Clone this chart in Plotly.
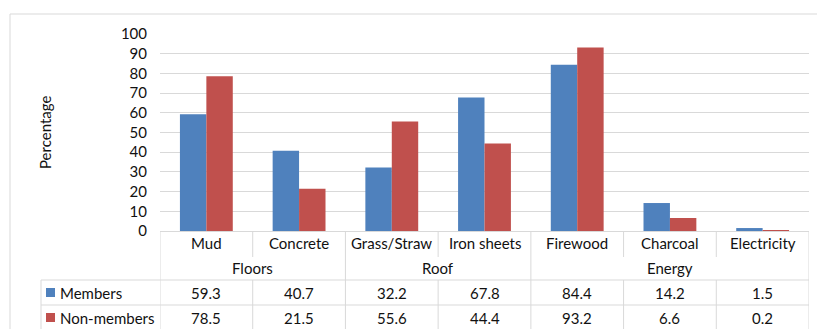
import plotly.graph_objects as go

# Household characteristics by membership status
categories = ["Mud", "Concrete", "Grass/Straw", "Iron sheets", "Firewood", "Charcoal", "Electricity"]
groups = ["Floors", "Roof", "Energy"]
group_spans = [(0, 1), (2, 3), (4, 6)]
members = [59.3, 40.7, 32.2, 67.8, 84.4, 14.2, 1.5]
non_members = [78.5, 21.5, 55.6, 44.4, 93.2, 6.6, 0.2]
series_names = ["Members", "Non-members"]

BLUE = "#4F81BD"
RED = "#C0504D"
GRID = "#D9D9D9"
TEXT = "#111111"
FONT = "Lato"
FS = 15

W, H = 817, 329
L, R, T, B = 160, 8, 34, 98
PW, PH = W - L - R, H - T - B


def px(xp):
    return (xp - L) / PW


def py(yp):
    return (H - B - yp) / PH


fig = go.Figure()
fig.add_trace(go.Bar(x=list(range(len(categories))), y=members, name=series_names[0],
                     marker=dict(color=BLUE, line=dict(width=0))))
fig.add_trace(go.Bar(x=list(range(len(categories))), y=non_members, name=series_names[1],
                     marker=dict(color=RED, line=dict(width=0))))

n = len(categories)
shapes = []
annotations = []


def hline(x0, x1, y, xref="x"):
    shapes.append(dict(type="line", xref=xref, yref="paper", x0=x0, x1=x1, y0=y, y1=y,
                       line=dict(color=GRID, width=1)))


def vline(x, y0, y1, xref="x"):
    shapes.append(dict(type="line", xref=xref, yref="paper", x0=x, x1=x, y0=y0, y1=y1,
                       line=dict(color=GRID, width=1)))


# table rows (pixel rows below the axis)
row_cat = py(257)
row_grp = py(280)
row_mem = py(305)
row_bot = py(340)

# outer chart frame
vline(px(10), py(14), py(340), xref="paper")
hline(px(10), px(817), py(14), xref="paper")

# table grid
hline(px(41), px(809), row_grp, xref="paper")
hline(px(41), px(809), row_mem, xref="paper")
vline(px(41), row_grp, row_bot, xref="paper")
vline(-0.5, 0, row_bot)
vline(n - 0.5, 0, row_bot)
group_edges = {s - 0.5 for s, _ in group_spans[1:]}
for k in range(1, n):
    b = k - 0.5
    if b in group_edges:
        vline(b, 0, row_bot)
    else:
        vline(b, 0, row_cat)
        vline(b, row_grp, row_bot)

# category and group labels
for i, c in enumerate(categories):
    annotations.append(dict(x=i, y=py(243), xref="x", yref="paper", text=c, showarrow=False,
                            font=dict(family=FONT, size=FS, color=TEXT), yanchor="middle"))
for g, (s, e) in zip(groups, group_spans):
    annotations.append(dict(x=(s + e) / 2, y=py(268), xref="x", yref="paper", text=g,
                            showarrow=False, font=dict(family=FONT, size=FS, color=TEXT),
                            yanchor="middle"))

# data rows
for vals, yrow, col, name in [(members, 292.5, BLUE, series_names[0]),
                              (non_members, 317.5, RED, series_names[1])]:
    for i, v in enumerate(vals):
        annotations.append(dict(x=i, y=py(yrow), xref="x", yref="paper", text=f"{v:.1f}",
                                showarrow=False, font=dict(family=FONT, size=FS, color=TEXT),
                                yanchor="middle"))
    shapes.append(dict(type="rect", xref="paper", yref="paper", x0=px(46), x1=px(55),
                       y0=py(yrow - 4.5), y1=py(yrow + 4.5), fillcolor=col,
                       line=dict(width=0)))
    annotations.append(dict(x=px(58), y=py(yrow), xref="paper", yref="paper", text=name,
                            showarrow=False, xanchor="left", yanchor="middle",
                            font=dict(family=FONT, size=FS, color=TEXT)))

# y-axis title
annotations.append(dict(x=px(45), y=py(133), xref="paper", yref="paper", text="Percentage",
                        textangle=-90, showarrow=False, xanchor="center", yanchor="middle",
                        font=dict(family=FONT, size=FS, color=TEXT)))

fig.update_layout(
    width=W, height=H,
    margin=dict(l=L, r=R, t=T, b=B, pad=0),
    paper_bgcolor="white", plot_bgcolor="white",
    barmode="group", bargap=0.43, bargroupgap=0,
    showlegend=False,
    shapes=shapes, annotations=annotations,
    xaxis=dict(range=[-0.5, n - 0.5], showticklabels=False, showgrid=False,
               zeroline=False, showline=True, linecolor=GRID, linewidth=1, ticks=""),
    yaxis=dict(range=[0, 100], dtick=10, showgrid=True, gridcolor=GRID, gridwidth=1,
               zeroline=False, showline=False, ticks="", ticklabelstandoff=12,
               tickfont=dict(family=FONT, size=FS, color=TEXT)),
)

fig.write_html("out.html")
